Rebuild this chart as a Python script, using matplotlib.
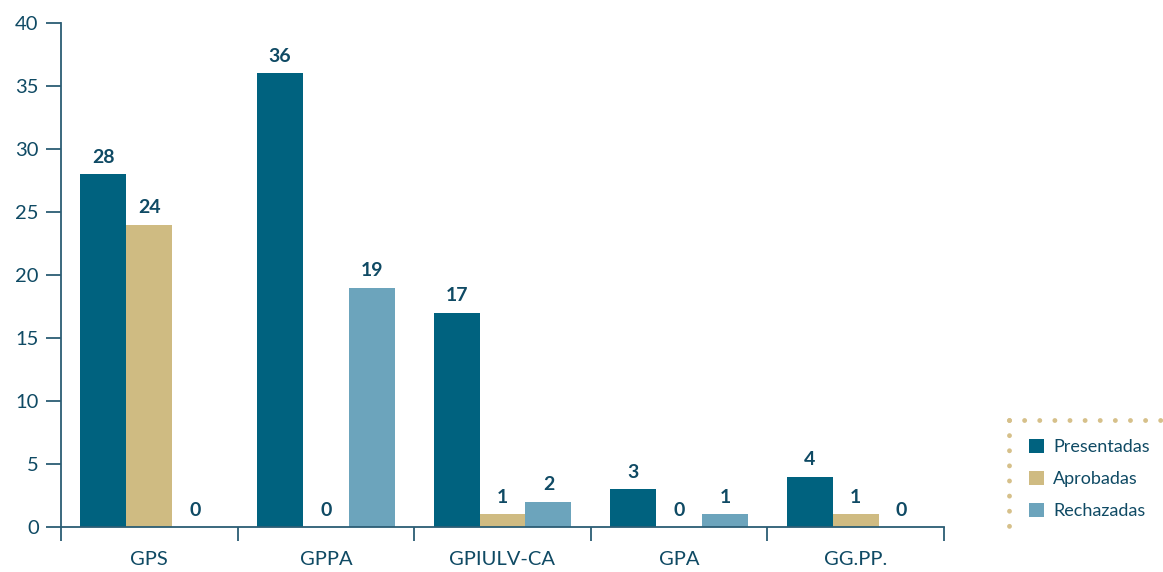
import numpy as np
import matplotlib.pyplot as plt
from matplotlib.lines import Line2D

# Datos
grupos = ["GPS", "GPPA", "GPIULV-CA", "GPA", "GG.PP."]
presentadas = [28, 36, 17, 3, 4]
aprobadas = [24, 0, 1, 0, 1]
rechazadas = [0, 19, 2, 1, 0]

series = [
    ("Presentadas", presentadas, "#00627f"),
    ("Aprobadas", aprobadas, "#cfbb82"),
    ("Rechazadas", rechazadas, "#6ca4bc"),
]

color_texto = "#0f4a64"
color_eje = "#2b5d74"

plt.rcParams['font.family'] = ['Lato', 'DejaVu Sans']

fig = plt.figure(figsize=(11.63, 5.72), dpi=100)
ax = fig.add_axes([0.0524, 0.0787, 0.7593, 0.8811])

x = np.arange(len(grupos))
ancho = 0.26
for i, (nombre, valores, color) in enumerate(series):
    barras = ax.bar(x + (i - 1) * ancho, valores, ancho, color=color, label=nombre)
    ax.bar_label(barras, padding=6, fontsize=14, fontweight='bold', color=color_texto)

ax.set_xlim(-0.5, len(grupos) - 0.5)
ax.set_ylim(0, 40)
ax.set_yticks(range(0, 41, 5))

ax.set_xticks(x)
ax.set_xticklabels(grupos)
ax.set_xticks(np.arange(-0.5, len(grupos), 1), minor=True)
ax.tick_params(axis='x', which='major', length=0, pad=17, labelsize=14.5, labelcolor=color_texto)
ax.tick_params(axis='x', which='minor', length=10, width=1.3, color=color_eje, direction='out')
ax.tick_params(axis='y', length=11, width=1.3, color=color_eje, labelsize=14.5,
               labelcolor=color_texto, pad=5)

for lado in ['top', 'right']:
    ax.spines[lado].set_visible(False)
for lado in ['left', 'bottom']:
    ax.spines[lado].set_color(color_eje)
    ax.spines[lado].set_linewidth(1.3)

# Leyenda con borde punteado
leg = ax.legend(loc='upper left', bbox_to_anchor=(1029 / 1163, 1 - 439 / 572),
                bbox_transform=fig.transFigure, frameon=False, fontsize=13,
                handlelength=0.85, handleheight=0.85, handletextpad=0.5,
                labelspacing=0.85, borderpad=0, borderaxespad=0)
for t in leg.get_texts():
    t.set_color(color_texto)

punteado = dict(color="#d6c08a", linewidth=3.5, linestyle=(0, (0.01, 3.1)),
                dash_capstyle='round', transform=fig.transFigure)
fig.add_artist(Line2D([1009 / 1163, 1163 / 1163], [1 - 420 / 572, 1 - 420 / 572], **punteado))
fig.add_artist(Line2D([1009 / 1163, 1009 / 1163], [1 - 420 / 572, 1 - 527 / 572], **punteado))

fig.savefig("out.png", dpi=100)
